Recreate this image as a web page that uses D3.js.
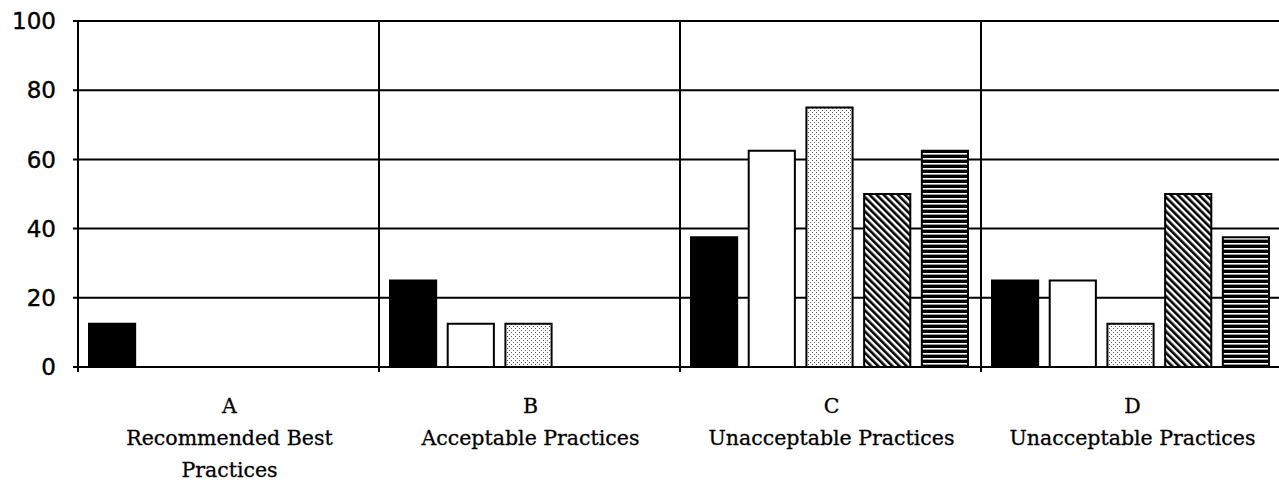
<!DOCTYPE html>
<html>
<head>
<meta charset="utf-8">
<script src="https://cdn.jsdelivr.net/npm/d3@7"></script>
<style>
  body { margin: 0; background: #fff; }
  svg { display: block; }
</style>
</head>
<body>
<div id="chart"></div>
<script>
const categories = ['A', 'B', 'C', 'D']
const categoryLabels = [
  ['A', 'Recommended Best', 'Practices'],
  ['B', 'Acceptable Practices'],
  ['C', 'Unacceptable Practices'],
  ['D', 'Unacceptable Practices']
]
const series = ['s1', 's2', 's3', 's4', 's5']
const seriesFill = ['solid', 'white', 'dots', 'diagonal', 'horizontal']
const values = {
  s1: [12.5, 25, 37.5, 25],
  s2: [0, 12.5, 62.5, 25],
  s3: [0, 12.5, 75, 12.5],
  s4: [0, 0, 50, 50],
  s5: [0, 0, 62.5, 37.5]
}
const yTicks = [0, 20, 40, 60, 80, 100]

const width = 1279
const height = 482
const margin = { top: 21, right: -3, bottom: 115, left: 78 }

const svg = d3.select('#chart').append('svg')
  .attr('width', width)
  .attr('height', height)

// patterns
const defs = svg.append('defs')
const dots = defs.append('pattern').attr('id', 'dots')
  .attr('patternUnits', 'userSpaceOnUse').attr('width', 4).attr('height', 4)
dots.append('rect').attr('width', 4).attr('height', 4).attr('fill', '#fff')
dots.append('rect').attr('x', 0).attr('y', 0).attr('width', 1).attr('height', 1).attr('fill', '#555')
dots.append('rect').attr('x', 2).attr('y', 2).attr('width', 1).attr('height', 1).attr('fill', '#555')

const diag = defs.append('pattern').attr('id', 'diagonal')
  .attr('patternUnits', 'userSpaceOnUse').attr('width', 5).attr('height', 5)
  .attr('patternTransform', 'rotate(-45)')
diag.append('rect').attr('width', 5).attr('height', 5).attr('fill', '#fff')
diag.append('rect').attr('x', 0).attr('width', 2.6).attr('height', 5).attr('fill', '#000')

const horiz = defs.append('pattern').attr('id', 'horizontal')
  .attr('patternUnits', 'userSpaceOnUse').attr('width', 10).attr('height', 5)
horiz.append('rect').attr('width', 10).attr('height', 5).attr('fill', '#000')
horiz.append('rect').attr('y', 3).attr('width', 10).attr('height', 1.6).attr('fill', '#fff')

const fillFor = (f) => f === 'solid' ? '#000' : f === 'white' ? '#fff' : `url(#${f})`

// scales
const x0 = d3.scaleBand()
  .domain(categories)
  .range([margin.left, width - margin.right])

const x1 = d3.scaleBand()
  .domain(series)
  .range([11, 288])
  .paddingInner(0.2)

const y = d3.scaleLinear()
  .domain([0, 100])
  .range([height - margin.bottom, margin.top])

// gridlines
svg.append('g')
  .selectAll('line')
  .data(yTicks)
  .join('line')
  .attr('x1', margin.left - 5)
  .attr('x2', width)
  .attr('y1', (d) => y(d))
  .attr('y2', (d) => y(d))
  .attr('stroke', '#000')
  .attr('stroke-width', 2)

// category separators
svg.append('g')
  .selectAll('line')
  .data(categories)
  .join('line')
  .attr('x1', (d) => x0(d))
  .attr('x2', (d) => x0(d))
  .attr('y1', y(100))
  .attr('y2', y(0) + 5)
  .attr('stroke', '#000')
  .attr('stroke-width', 2)

// y labels
svg.append('g')
  .selectAll('text')
  .data(yTicks)
  .join('text')
  .attr('x', 56)
  .attr('y', (d) => y(d))
  .attr('dy', '0.36em')
  .attr('text-anchor', 'end')
  .attr('font-family', 'DejaVu Sans, sans-serif')
  .attr('font-size', 23)
  .attr('stroke', '#000')
  .attr('stroke-width', 0.4)
  .text((d) => d)

// bars
const groups = svg.append('g')
  .selectAll('g')
  .data(categories)
  .join('g')
  .attr('transform', (d) => `translate(${x0(d)},0)`)

groups.selectAll('rect')
  .data((d, i) => series.map((s, j) => ({ s, v: values[s][i], f: seriesFill[j] })).filter((d) => d.v > 0))
  .join('rect')
  .attr('x', (d) => x1(d.s))
  .attr('y', (d) => y(d.v))
  .attr('width', x1.bandwidth())
  .attr('height', (d) => y(0) - y(d.v))
  .attr('fill', (d) => fillFor(d.f))
  .attr('stroke', '#000')
  .attr('stroke-width', 2)

// category labels
groups.append('text')
  .attr('text-anchor', 'middle')
  .attr('font-family', 'DejaVu Serif, serif')
  .attr('font-size', 20.5)
  .attr('stroke', '#000')
  .attr('stroke-width', 0.3)
  .selectAll('tspan')
  .data((d, i) => categoryLabels[i])
  .join('tspan')
  .attr('x', x0.bandwidth() / 2 + 1)
  .attr('y', (d, i) => 413 + i * 32)
  .text((d) => d)
</script>
</body>
</html>
